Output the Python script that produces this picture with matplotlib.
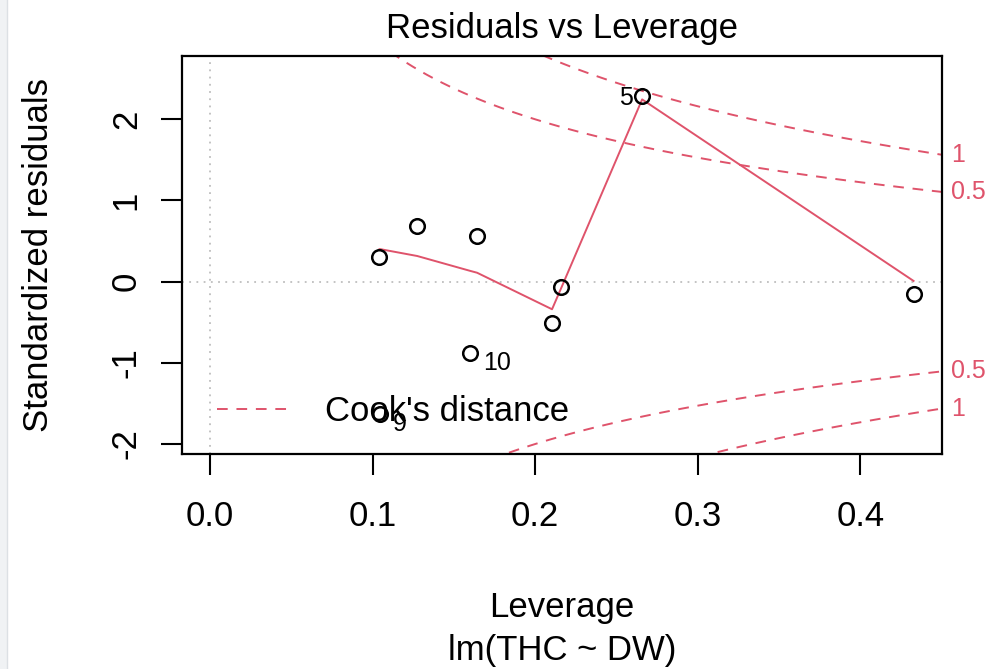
import numpy as np
import matplotlib
matplotlib.use("Agg")
from matplotlib import pyplot as plt
from matplotlib.lines import Line2D
from matplotlib.patches import Rectangle

plt.rcParams["font.family"] = ["Liberation Sans", "DejaVu Sans"]
plt.rcParams["axes.unicode_minus"] = False

# leverage / standardized residuals
leverage = [0.1043, 0.1275, 0.1643, 0.2160, 0.2104, 0.1602, 0.1049, 0.2658, 0.4327]
std_resid = [0.304, 0.686, 0.562, -0.065, -0.505, -0.881, -1.628, 2.285, -0.155]
point_ids = [None, None, None, None, None, "10", "9", "5", None]

# smoother (red line) vertices
smooth_x = [0.1043, 0.1049, 0.1275, 0.1602, 0.1643, 0.2104, 0.2160, 0.2658, 0.4327]
smooth_y = [0.40, 0.40, 0.316, 0.132, 0.11, -0.34, -0.08, 2.245, 0.009]

# Cook's distance contour levels, p = 2 coefficients
cook_levels = [0.5, 1.0]
n_coef = 2

RED = "#DF536B"
FS = 25
FS_SMALL = 18
DASH = (0, (5.5, 4.5))

fig = plt.figure(figsize=(9.92, 6.69), dpi=100)
ax = fig.add_axes([0.1832, 0.3214, 0.7661, 0.5949])

xmax = max(leverage)
ax.set_xlim(-0.04 * xmax, 1.04 * xmax)
lo, hi = min(std_resid), max(std_resid)
ext = 0.08 * (hi - lo)
ylo, yhi = lo - ext, hi + ext
ax.set_ylim(ylo - 0.04 * (yhi - ylo), yhi + 0.04 * (yhi - ylo))

ax.axhline(0, color="#BEBEBE", lw=1.3, ls=(0, (1.0, 3.0)), zorder=1)
ax.axvline(0, color="#BEBEBE", lw=1.3, ls=(0, (1.0, 3.0)), zorder=1)

ax.plot(leverage, std_resid, "o", mfc="none", mec="black", ms=10.5, mew=1.8, zorder=3)
ax.plot(smooth_x, smooth_y, color=RED, lw=1.4, zorder=2)

# Cook's distance contours
x_right = ax.get_xlim()[1]
hh = np.linspace(min(min(leverage), xmax / 100), x_right, 101)
for lev in cook_levels:
    cl = np.sqrt(lev * n_coef * (1 - hh) / hh)
    ax.plot(hh, cl, color=RED, lw=1.4, ls=DASH, zorder=2)
    ax.plot(hh, -cl, color=RED, lw=1.4, ls=DASH, zorder=2)
    end = np.sqrt(lev * n_coef * (1 - x_right) / x_right)
    lab = f"{lev:g}"
    for yv in (end, -end):
        ax.annotate(lab, xy=(1, yv), xycoords=("axes fraction", "data"),
                    xytext=(6.5, 0), textcoords="offset points", ha="left",
                    va="center", color=RED, fontsize=FS_SMALL, annotation_clip=False)

# id labels
for x, y, lab in zip(leverage, std_resid, point_ids):
    if lab is None:
        continue
    if lab == "5":
        ax.annotate(lab, (x, y), xytext=(-7, -1), textcoords="offset points",
                    ha="right", va="center", fontsize=FS_SMALL)
    else:
        ax.annotate(lab, (x, y), xytext=(9, -7), textcoords="offset points",
                    ha="left", va="center", fontsize=FS_SMALL)

handle = Line2D([], [], color=RED, lw=1.4, ls=DASH)
ax.legend([handle], ["Cook's distance"], loc="center left",
          bbox_to_anchor=(35.3 / 760, 42.3 / 398), frameon=False,
          fontsize=FS, handlelength=2.1, handletextpad=1.0,
          borderpad=0, borderaxespad=0)

ax.set_xticks([0.0, 0.1, 0.2, 0.3, 0.4])
ax.set_xticklabels(["0.0", "0.1", "0.2", "0.3", "0.4"])
ax.set_yticks([-2, -1, 0, 1, 2])
ax.tick_params(axis="both", length=15, width=1.5, labelsize=FS, direction="out")
ax.tick_params(axis="x", pad=18)
ax.tick_params(axis="y", pad=13)
for lbl in ax.get_yticklabels():
    lbl.set_rotation(90)
    lbl.set_va("center")
for sp in ax.spines.values():
    sp.set_linewidth(1.6)

ax.set_xlabel("Leverage\nlm(THC ~ DW)", fontsize=FS, linespacing=1.36)
ax.xaxis.set_label_coords(0.5, -0.345)
ax.set_ylabel("Standardized residuals", fontsize=FS)
ax.yaxis.set_label_coords(-0.1667, 0.5)
ax.set_title("Residuals vs Leverage", fontsize=FS, pad=13)

# screenshot edge
fig.patches.append(Rectangle((0, 0), 7 / 992, 1, transform=fig.transFigure,
                             facecolor="#F0F2F4", edgecolor="none"))
fig.add_artist(Line2D([7 / 992, 7 / 992], [0, 1], transform=fig.transFigure,
                      color="#DCE0E4", lw=1))

fig.savefig("out.png", dpi=100)
